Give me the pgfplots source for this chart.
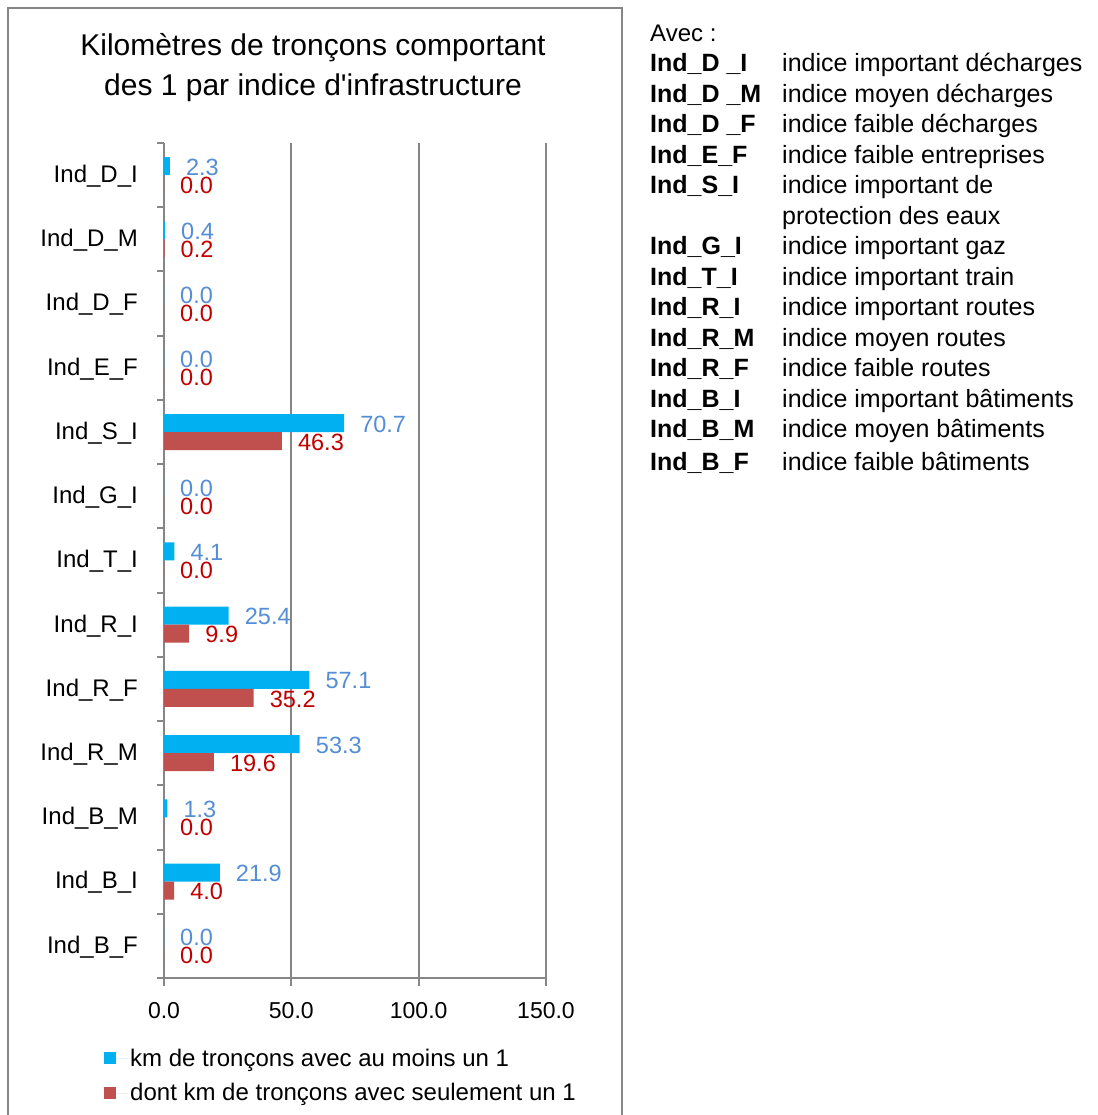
\documentclass[border=0pt]{standalone}
\usepackage{fontspec}
\setmainfont{Liberation Sans}
\usepackage{pgfplots}
\pgfplotsset{compat=1.18}
\definecolor{barblue}{HTML}{00B0F0}
\definecolor{barred}{HTML}{C0504D}
\definecolor{lblblue}{HTML}{558ED5}
\definecolor{lblred}{HTML}{C00000}
\definecolor{gridgray}{HTML}{868686}
\begin{document}
\begin{tikzpicture}[x=1pt,y=1pt]
\useasboundingbox (0,0) rectangle (1097,1115);
\fill[white] (0,0) rectangle (1097,1115);
\draw[gridgray, line width=1.5pt] (8,-10) -- (8,1107) -- (622,1107) -- (622,-10);
\node[align=center, font=\fontsize{30}{40}\selectfont] at (313,1047) {Kilomètres de tronçons comportant\\des 1 par indice d\textquotesingle infrastructure};
\begin{axis}[
  at={(164pt,137pt)}, anchor=south west, scale only axis,
  width=382pt, height=835pt,
  xmin=0, xmax=150, ymin=-0.5, ymax=12.5,
  clip=false,
  xbar, bar width=18pt,
  axis x line*=bottom, axis y line*=left,
  x axis line style={draw=gridgray, line width=2pt, -},
  y axis line style={draw=gridgray, line width=2pt, -},
  xtick={0,50,100,150},
  xmajorgrids, grid style={gridgray, line width=2pt},
  major tick length=8pt, minor tick length=7pt, tick align=outside,
  tick style={gridgray, line width=2pt},
  major y tick style={draw=none},
  ytick={0,...,12},
  yticklabels={Ind\_B\_F, Ind\_B\_I, Ind\_B\_M, Ind\_R\_M, Ind\_R\_F, Ind\_R\_I, Ind\_T\_I, Ind\_G\_I, Ind\_S\_I, Ind\_E\_F, Ind\_D\_F, Ind\_D\_M, Ind\_D\_I},
  minor ytick={-0.5,0.5,...,12.5},
  yticklabel style={font=\fontsize{24}{28}\selectfont, inner sep=0pt, xshift=-18pt, yshift=-1pt},
  xticklabel style={font=\fontsize{23}{26}\selectfont, yshift=-13pt, /pgf/number format/.cd, fixed, fixed zerofill, precision=1, assume math mode=true},
  scaled x ticks=false,
  point meta=x,
  nodes near coords={\pgfmathprintnumber[fixed, fixed zerofill, precision=1, assume math mode=true]{\pgfplotspointmeta}},
  nodes near coords style={anchor=west, inner sep=0pt, xshift=16pt, font=\fontsize{23.5}{27}\selectfont},
  legend style={at={(axis description cs:-0.157,-0.082)}, anchor=north west, draw=none, fill=none, font=\fontsize{24}{28}\selectfont, legend cell align=left, row sep=12pt, inner sep=0pt},
  legend image code/.code={\fill[#1] (0pt,-6pt) rectangle (12pt,6pt); \path (0pt,0pt) -- (24pt,0pt);},
]
\draw[gridgray, line width=2pt] (rel axis cs:0,0) -- (rel axis cs:1,0);
\addplot[fill=barblue, draw=none, bar shift=9pt, every node near coord/.append style={text=lblblue, yshift=-1pt}] coordinates {(2.3,12) (0.4,11) (0,10) (0,9) (70.7,8) (0,7) (4.1,6) (25.4,5) (57.1,4) (53.3,3) (1.3,2) (21.9,1) (0,0)};
\addlegendentry{km de tronçons avec au moins un 1}
\addplot[fill=barred, draw=none, bar shift=-9pt, every node near coord/.append style={text=lblred, yshift=-1pt}] coordinates {(0,12) (0.2,11) (0,10) (0,9) (46.3,8) (0,7) (0,6) (9.9,5) (35.2,4) (19.6,3) (0,2) (4.0,1) (0,0)};
\addlegendentry{dont km de tronçons avec seulement un 1}
\end{axis}
\node[anchor=north west, inner sep=0pt, font=\fontsize{25}{30.5}\selectfont] at (650,1095.4) {%
\renewcommand{\arraystretch}{1}%
\begin{tabular}{@{}p{132pt}@{}l@{}}
\multicolumn{2}{@{}l@{}}{\fontsize{24}{30.5}\selectfont Avec :}\\
\textbf{Ind\_D \_I} & indice important décharges\\
\textbf{Ind\_D \_M} & indice moyen décharges\\
\textbf{Ind\_D \_F} & indice faible décharges\\
\textbf{Ind\_E\_F} & indice faible entreprises\\
\textbf{Ind\_S\_I} & indice important de\\
 & protection des eaux\\
\textbf{Ind\_G\_I} & indice important gaz\\
\textbf{Ind\_T\_I} & indice important train\\
\textbf{Ind\_R\_I} & indice important routes\\
\textbf{Ind\_R\_M} & indice moyen routes\\
\textbf{Ind\_R\_F} & indice faible routes\\
\textbf{Ind\_B\_I} & indice important bâtiments\\
\textbf{Ind\_B\_M} & indice moyen bâtiments\\[2.5pt]
\textbf{Ind\_B\_F} & indice faible bâtiments
\end{tabular}};
\end{tikzpicture}
\end{document}
